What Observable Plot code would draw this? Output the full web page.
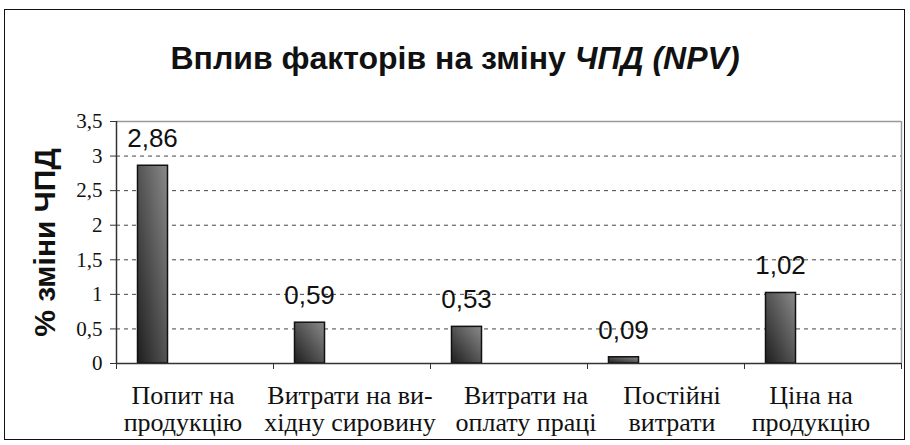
<!DOCTYPE html>
<html>
<head>
<meta charset="utf-8">
<script src="https://cdn.jsdelivr.net/npm/d3@7"></script>
<script src="https://cdn.jsdelivr.net/npm/@observablehq/plot@0.6"></script>
<style>
  html, body { margin: 0; padding: 0; background: #fff; }
  #wrap { position: relative; width: 910px; height: 445px; overflow: hidden; }
  #border { position: absolute; left: 4px; top: 9px; width: 899px; height: 429px; border: 1.5px solid #111; box-sizing: content-box; }
  #title { position: absolute; left: 0; top: 42px; width: 910px; text-align: center;
           font-family: "Liberation Sans", Arial, sans-serif; font-weight: bold; font-size: 32px; line-height: 32px; color: #111; }
  #chart { position: absolute; left: 0; top: 0; }
</style>
</head>
<body>
<div id="wrap">
  <div id="border"></div>
  <div id="chart"></div>
  <div id="title">Вплив факторів на зміну <i>ЧПД (NPV)</i></div>
</div>
<script>
const categories = [
  "Попит на\nпродукцію",
  "Витрати на ви-\nхідну сировину",
  "Витрати на\nоплату праці",
  "Постійні\nвитрати",
  "Ціна на\nпродукцію"
];
const values = [2.86, 0.59, 0.53, 0.09, 1.02];
const yTicks = [0, 0.5, 1, 1.5, 2, 2.5, 3, 3.5];
const yLabel = "% зміни ЧПД";
// small horizontal nudges of the wrapped category labels (style only, px)
const labelNudge = [-12, -2, 17, 6, -12];

const n = categories.length;
const rows = categories.map((c, i) => ({i, category: c, value: values[i]}));
const fmt = v => String(v).replace(".", ",");
const fmt2 = v => v.toFixed(2).replace(".", ",");
const yMax = d3.max(yTicks);
const serif = "'Liberation Serif', 'Times New Roman', serif";
const sans = "'Liberation Sans', Arial, sans-serif";

const plot = Plot.plot({
  width: 910,
  height: 445,
  marginLeft: 116,
  marginRight: 9,
  marginTop: 121,
  marginBottom: 82,
  style: {fontFamily: serif, background: "transparent", color: "#111", overflow: "visible"},
  x: {domain: [0, n], axis: null},
  y: {domain: [0, yMax], axis: null},
  marks: [
    Plot.ruleY(yTicks.filter(t => t > 0 && t < yMax), {stroke: "#444", strokeDasharray: "4,4", strokeWidth: 1}),
    Plot.ruleY([yMax], {stroke: "#9a9a9a", strokeWidth: 1.5}),
    Plot.ruleX([n], {stroke: "#9a9a9a", strokeWidth: 1.5}),
    Plot.rect(rows, {
      x1: "i", x2: d => d.i + 1, y1: 0, y2: "value",
      insetLeft: 21.5, insetRight: 105.5,
      fill: "url(#barGrad)", stroke: "#111", strokeWidth: 1.5
    }),
    Plot.ruleX([0], {stroke: "#333", strokeWidth: 1.5}),
    Plot.ruleY([0], {stroke: "#333", strokeWidth: 1.5}),
    Plot.axisY(yTicks, {tickSize: 6, tickFormat: () => "", label: null, stroke: "#333"}),
    Plot.axisX(d3.range(n + 1), {tickSize: 6, tickFormat: () => "", label: null, stroke: "#333"}),
    Plot.text(yTicks, {
      y: d => d, text: fmt, frameAnchor: "left", textAnchor: "end", lineAnchor: "middle",
      dx: -14, fontFamily: serif, fontSize: 21, fill: "#111"
    }),
    ...rows.map(r => Plot.text([r], {
      x: d => d.i + 0.5, text: "category", frameAnchor: "bottom", lineAnchor: "top",
      dx: labelNudge[r.i], dy: 21.5, lineHeight: 1.04, fontFamily: serif, fontSize: 26, fill: "#111"
    })),
    Plot.text(rows, {
      x: d => d.i + 0.5, y: "value", text: d => fmt2(d.value),
      dx: -42.5, dy: -18.5, lineAnchor: "bottom",
      fontFamily: sans, fontSize: 26, fill: "#111"
    }),
    Plot.text([yLabel], {
      frameAnchor: "left", text: d => d, rotate: -90, dx: -71,
      textAnchor: "middle", lineAnchor: "middle",
      fontFamily: sans, fontWeight: "bold", fontSize: 30, fill: "#111"
    })
  ]
});

const defs = d3.select(plot).insert("defs", ":first-child");
const grad = defs.append("linearGradient")
  .attr("id", "barGrad")
  .attr("x1", 0).attr("y1", 1).attr("x2", 1).attr("y2", 0);
grad.append("stop").attr("offset", "0%").attr("stop-color", "#1e1e1e");
grad.append("stop").attr("offset", "100%").attr("stop-color", "#8a8a8a");

document.getElementById("chart").appendChild(plot);
</script>
</body>
</html>
